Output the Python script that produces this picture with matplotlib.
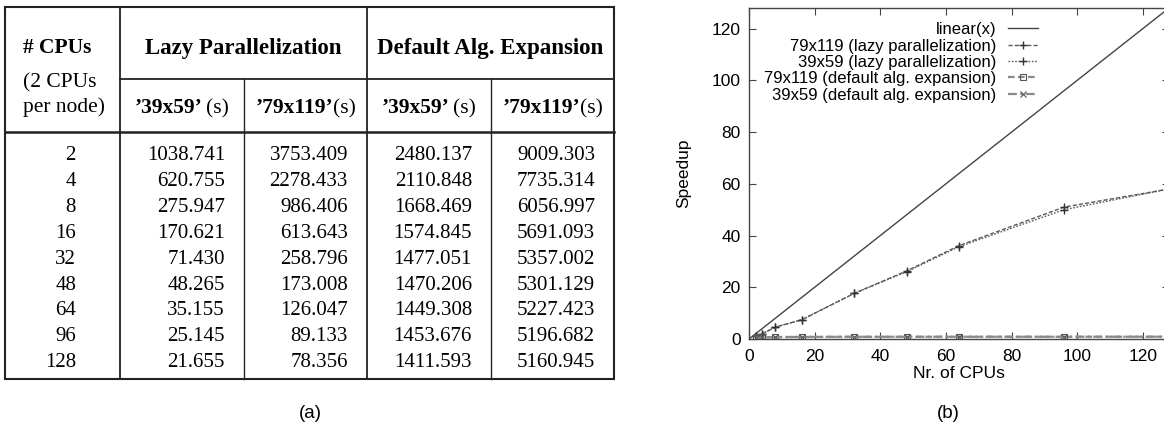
import matplotlib
matplotlib.use("Agg")
import matplotlib.pyplot as plt

# ---------------- data ----------------
cpus = [2, 4, 8, 16, 32, 48, 64, 96, 128]
lazy_39x59 = [1038.741, 620.755, 275.947, 170.621, 71.430, 48.265, 35.155, 25.145, 21.655]
lazy_79x119 = [3753.409, 2278.433, 986.406, 613.643, 258.796, 173.008, 126.047, 89.133, 78.356]
default_39x59 = [2480.137, 2110.848, 1668.469, 1574.845, 1477.051, 1470.206, 1449.308, 1453.676, 1411.593]
default_79x119 = [9009.303, 7735.314, 6056.997, 5691.093, 5357.002, 5301.129, 5227.423, 5196.682, 5160.945]

col_header = "# CPUs"
col_sub = ["(2 CPUs", "per node)"]
group_headers = ["Lazy Parallelization", "Default Alg. Expansion"]
sub_headers = ["\u201939x59\u2019", "\u201979x119\u2019", "\u201939x59\u2019", "\u201979x119\u2019"]
sub_unit = "(s)"

# speedup values
linear_x = [0, 128]
linear_y = [0, 128]
speedup_lazy_79x119 = [1.2, 2.0, 4.6, 7.4, 17.6, 26.3, 36.1, 51.0, 58.0]
speedup_lazy_39x59 = [1.2, 2.0, 4.6, 7.4, 17.6, 26.0, 35.7, 50.0, 58.0]
speedup_def_79x119 = [0.50, 0.59, 0.75, 0.80, 0.85, 0.86, 0.87, 0.87, 0.88]
speedup_def_39x59 = [0.51, 0.59, 0.75, 0.80, 0.85, 0.85, 0.87, 0.86, 0.89]
legend_labels = ["linear(x)", "79x119 (lazy parallelization)", "39x59 (lazy parallelization)",
                 "79x119 (default alg. expansion)", "39x59 (default alg. expansion)"]
x_ticks = [0, 20, 40, 60, 80, 100, 120]
y_ticks = [0, 20, 40, 60, 80, 100, 120]

W, H = 1164, 428
fig = plt.figure(figsize=(W / 100, H / 100), dpi=100)

# ---------------- panel (a): table ----------------
bg = fig.add_axes([0, 0, 1, 1])
bg.set_xlim(0, W)
bg.set_ylim(H, 0)
bg.axis("off")

serif = "Liberation Serif"
sans = "Liberation Sans"
lc = "#222222"

L, R, T, B = 5, 614, 7, 379
xv = [L, 120, 244, 367, 491, R]
y_group = 79
y_head = 132

bg.plot([L, R, R, L, L], [T, T, B, B, T], color=lc, lw=1.5, solid_joinstyle="miter")
bg.plot([xv[1], xv[1]], [T, B], color=lc, lw=1.3)
bg.plot([xv[3], xv[3]], [T, B], color=lc, lw=1.3)
bg.plot([xv[2], xv[2]], [y_group, B], color=lc, lw=1.0)
bg.plot([xv[4], xv[4]], [y_group, B], color=lc, lw=1.0)
bg.plot([xv[1], R], [y_group, y_group], color=lc, lw=1.3)
bg.plot([L, R], [y_head, y_head], color=lc, lw=1.8)

fs_group = 16.5
fs_head = 15.5
fs_data = 15
bg.text(23, 48, col_header, fontfamily=serif, fontweight="bold", fontsize=fs_head,
        ha="left", va="center")
bg.text(23, 83, col_sub[0], fontfamily=serif, fontsize=fs_head, ha="left", va="center")
bg.text(23, 107, col_sub[1], fontfamily=serif, fontsize=fs_head, ha="left", va="center")

for gi, gh in enumerate(group_headers):
    cx = (xv[1 + 2 * gi] + xv[3 + 2 * gi]) / 2
    bg.text(cx, 48, gh, fontfamily=serif, fontweight="bold", fontsize=fs_group,
            ha="center", va="center")

renderer = fig.canvas.get_renderer()
y_sub = 113
sub_gaps = [4, 0, 4, 0]
for j, sh in enumerate(sub_headers):
    cx = (xv[1 + j] + xv[2 + j]) / 2
    t1 = bg.text(0, y_sub, sh, fontfamily=serif, fontweight="bold", fontsize=fs_head,
                 ha="left", va="baseline")
    t2 = bg.text(0, y_sub, sub_unit, fontfamily=serif, fontsize=fs_head, ha="left",
                 va="baseline")
    w1 = t1.get_window_extent(renderer).width
    w2 = t2.get_window_extent(renderer).width
    x0 = cx - (w1 + sub_gaps[j] + w2) / 2
    t1.set_x(x0)
    t2.set_x(x0 + w1 + sub_gaps[j])

row_y0, row_dy = 155.5, 25.9
cols = [lazy_39x59, lazy_79x119, default_39x59, default_79x119]
right_pad = 19
for i, n in enumerate(cpus):
    y = row_y0 + i * row_dy
    bg.text(76, y, str(n), fontfamily=serif, fontsize=fs_data, ha="right", va="center")
    for j, col in enumerate(cols):
        bg.text(xv[2 + j] - right_pad, y, f"{col[i]:.3f}", fontfamily=serif,
                fontsize=fs_data, ha="right", va="center")

bg.text(310, 413, "(a)", fontfamily=sans, fontsize=13.5, ha="center", va="center")
bg.text(948, 413, "(b)", fontfamily=sans, fontsize=13.5, ha="center", va="center")

# ---------------- panel (b): speedup plot ----------------
ax_l, ax_r, ax_t, ax_b = 749, 1169, 8, 339
ax = fig.add_axes([ax_l / W, (H - ax_b) / H, (ax_r - ax_l) / W, (ax_b - ax_t) / H])
ax.set_xlim(0, 128)
ax.set_ylim(0, 128)
ax.patch.set_alpha(0)

gray = "#5a5a5a"
ax.plot(linear_x, linear_y, color="#444444", lw=1.0, label=legend_labels[0])
ax.plot(cpus, speedup_lazy_79x119, color=gray, lw=1.0, ls=(0, (3, 1.5)), marker="+",
        ms=6, mew=1.0, mec="#333333", label=legend_labels[1])
ax.plot(cpus, speedup_lazy_39x59, color=gray, lw=1.0, ls=(0, (1.2, 1.2)), marker="+",
        ms=6, mew=1.0, mec="#333333", label=legend_labels[2])
ax.plot(cpus, speedup_def_79x119, color="#8a8a8a", lw=1.6, ls=(0, (3, 1.5)), marker="s",
        ms=4, mew=0.8, mfc="none", mec="#555555", label=legend_labels[3])
ax.plot(cpus, speedup_def_39x59, color="#8a8a8a", lw=1.6, ls=(0, (4, 1.5, 1, 1.5)),
        marker="x", ms=4, mew=0.8, mec="#555555", label=legend_labels[4])

ax.set_xticks(x_ticks)
ax.set_yticks(y_ticks)
for sp in ax.spines.values():
    sp.set_color("#444444")
    sp.set_linewidth(1.0)
ax.tick_params(direction="in", top=True, right=True, length=5, width=0.8,
               color="#444444", labelsize=12.5, labelcolor="black")
ax.tick_params(axis="x", pad=7.5)
ax.tick_params(axis="y", pad=6)
for lab in ax.get_xticklabels() + ax.get_yticklabels():
    lab.set_fontfamily(sans)

ax.set_xlabel("Nr. of CPUs", fontfamily=sans, fontsize=12.5, va="center")
ax.xaxis.set_label_coords(0.5, (ax_b - 373) / (ax_b - ax_t))
ax.set_ylabel("Speedup", fontfamily=sans, fontsize=12.5, va="center")
ax.yaxis.set_label_coords((684 - ax_l) / (ax_r - ax_l), 0.5)

leg = ax.legend(loc="upper right", bbox_to_anchor=((1038 - ax_l) / (ax_r - ax_l), 0.957),
                frameon=False, markerfirst=False, handlelength=1.8, handletextpad=0.7,
                labelspacing=0.08, borderpad=0, borderaxespad=0,
                prop={"family": sans, "size": 12})

fig.savefig("out.png", dpi=100)
